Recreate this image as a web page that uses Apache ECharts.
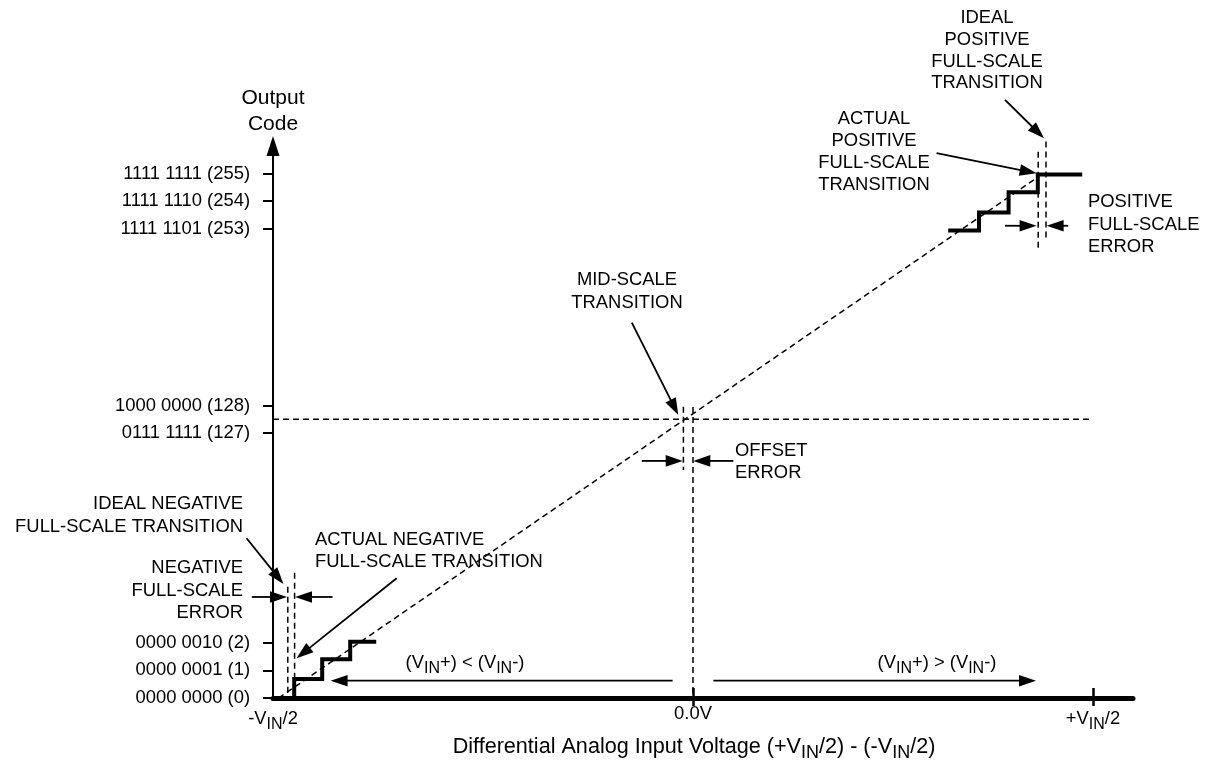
<!DOCTYPE html>
<html><head><meta charset="utf-8">
<script src="https://cdn.jsdelivr.net/npm/echarts@6/dist/echarts.min.js"></script>
<style>html,body{margin:0;padding:0;background:#fff}#c{width:1219px;height:771px}</style>
</head><body><div id="c"></div>
<script>
const FONT = '"Liberation Sans", Arial, Helvetica, sans-serif';

// ---- axis ticks / labels ----
const xTickValues = [-1.05, 0, 1];
const xTickLabels = ['-V{s|IN}/2', '0.0V', '+V{s|IN}/2'];
const xMarkValues = [0, 1];
const yTickPositions = [0, 1, 2, 9.6, 10.6, 17, 18, 19];
const yTickLabels = ['0000 0000 (0)', '0000 0001 (1)', '0000 0010 (2)', '0111 1111 (127)',
  '1000 0000 (128)', '1111 1101 (253)', '1111 1110 (254)', '1111 1111 (255)'];

// ---- transfer function data ----
const lowStairs = [[-0.997, 0], [-0.997, 0.69], [-0.927, 0.69], [-0.927, 1.40], [-0.857, 1.40],
  [-0.857, 2.04], [-0.792, 2.04]];
const highStairs = [[0.638, 16.94], [0.715, 16.94], [0.715, 17.59], [0.789, 17.59], [0.789, 18.32],
  [0.862, 18.32], [0.862, 18.97], [0.973, 18.97]];

// dashed guides [x1, y1, x2, y2]
const idealLine = [[-1.036, 0, 0.863, 18.88]];
const midLevel = [[-1.05, 10.1, 0.998, 10.1]];
const transitionMarks = [
  [-0.024, 10.55, -0.024, 8.26],
  [0, 10.54, 0, 0],
  [-1.013, 4.03, -1.013, 0],
  [-0.996, 4.54, -0.996, 0.69],
  [0.863, 19.79, 0.863, 16.29],
  [0.8825, 20.16, 0.8825, 16.66]
];
// arrows [fromX, fromY, tipX, tipY]
const arrows = [
  [0.78, 21.67, 0.8775, 20.28],
  [0.609, 19.74, 0.859, 19.01],
  [0.78, 17.11, 0.859, 17.11],
  [0.938, 17.11, 0.884, 17.11],
  [-0.153, 13.6, -0.0368, 10.25],
  [-0.128, 8.59, -0.0258, 8.59],
  [0.1008, 8.59, 0.0008, 8.59],
  [-1.116, 5.79, -1.024, 4.13],
  [-1.103, 3.66, -1.015, 3.66],
  [-0.901, 3.66, -0.995, 3.66],
  [-0.741, 4.34, -0.991, 1.44],
  [-0.051, 0.627, -0.906, 0.627],
  [0.051, 0.627, 0.8575, 0.627]
];

// ---- text annotations (layout) ----
const SUB = {fontSize: 16, fontFamily: FONT, fill: '#000', padding: [12, 0, 0, 0]};
const SUB_BIG = {fontSize: 18, fontFamily: FONT, fill: '#000', padding: [13, 0, 0, 0]};
const texts = [
  {x: 273, y: 85, align: 'center', lh: 26, size: 21, t: 'Output\nCode'},
  {x: 987, y: 7, align: 'center', lh: 21.8, t: 'IDEAL\nPOSITIVE\nFULL-SCALE\nTRANSITION'},
  {x: 874, y: 108, align: 'center', lh: 22, t: 'ACTUAL\nPOSITIVE\nFULL-SCALE\nTRANSITION'},
  {x: 1088, y: 191, align: 'left', lh: 22.3, t: 'POSITIVE\nFULL-SCALE\nERROR'},
  {x: 627, y: 269, align: 'center', lh: 22.5, t: 'MID-SCALE\nTRANSITION'},
  {x: 735, y: 440, align: 'left', lh: 22, t: 'OFFSET\nERROR'},
  {x: 243, y: 492, align: 'right', lh: 23, t: 'IDEAL NEGATIVE\nFULL-SCALE TRANSITION'},
  {x: 243, y: 557, align: 'right', lh: 22.3, t: 'NEGATIVE\nFULL-SCALE\nERROR'},
  {x: 315, y: 529, align: 'left', lh: 22, t: 'ACTUAL NEGATIVE\nFULL-SCALE TRANSITION'}
];
const richTexts = [
  {x: 465, y: 663, t: '(V{s|IN}+) < (V{s|IN}-)', size: 18.4, sub: SUB},
  {x: 937, y: 663, t: '(V{s|IN}+) > (V{s|IN}-)', size: 18.4, sub: SUB},
  {x: 694, y: 747, t: 'Differential Analog Input Voltage (+V{s|IN}/2) - (-V{s|IN}/2)', size: 21.6, sub: SUB_BIG}
];

const graphics = [];
texts.forEach(b => graphics.push({
  type: 'text', x: b.x, y: b.y, z: 10,
  style: {text: b.t, fontSize: b.size || 18.4, fontFamily: FONT, fill: '#000',
    align: b.align, verticalAlign: 'top', lineHeight: b.lh}
}));
richTexts.forEach(b => graphics.push({
  type: 'text', x: b.x, y: b.y, z: 10,
  style: {text: b.t, fontSize: b.size, fontFamily: FONT, fill: '#000',
    align: 'center', verticalAlign: 'middle', rich: {s: b.sub}}
}));

function dashedItem(params, api) {
  const a = api.coord([api.value(0), api.value(1)]);
  const b = api.coord([api.value(2), api.value(3)]);
  return {type: 'line', shape: {x1: a[0], y1: a[1], x2: b[0], y2: b[1]},
    style: {stroke: '#000', lineWidth: 1.5, lineDash: [6, 4]}};
}
function arrowItem(params, api) {
  const a = api.coord([api.value(0), api.value(1)]);
  const b = api.coord([api.value(2), api.value(3)]);
  const L = 17, W = 5.8;
  const dx = b[0] - a[0], dy = b[1] - a[1], len = Math.hypot(dx, dy);
  const ux = dx / len, uy = dy / len;
  const bx = b[0] - ux * L, by = b[1] - uy * L;
  return {type: 'group', children: [
    {type: 'line', shape: {x1: a[0], y1: a[1], x2: bx + ux * 2, y2: by + uy * 2},
      style: {stroke: '#000', lineWidth: 1.8}},
    {type: 'polygon', shape: {points: [[b[0], b[1]], [bx - uy * W, by + ux * W], [bx + uy * W, by - ux * W]]},
      style: {fill: '#000'}}
  ]};
}

const chart = echarts.init(document.getElementById('c'), null, {renderer: 'canvas'});
chart.setOption({
  animation: false,
  backgroundColor: '#fff',
  grid: {left: 273, right: 86, top: 146, bottom: 73, containLabel: false, outerBoundsMode: 'none'},
  xAxis: [{
    type: 'value', min: -1.05, max: 1.10, position: 'bottom',
    axisLine: {show: true, onZero: false, lineStyle: {color: '#000', width: 5}},
    splitLine: {show: false},
    axisTick: {show: true, customValues: xMarkValues, length: 8, lineStyle: {color: '#000', width: 2.5}},
    axisLabel: {
      customValues: xTickValues, margin: 7, color: '#000', fontSize: 18.4, fontFamily: FONT,
      formatter: v => { const i = xTickValues.findIndex(t => Math.abs(t - v) < 1e-6); return i >= 0 ? xTickLabels[i] : ''; },
      rich: {s: {fontSize: 16, fontFamily: FONT, color: '#000', padding: [12, 0, 0, 0]}}
    }
  }, {
    type: 'value', min: -1.05, max: 1.10, position: 'bottom', gridIndex: 0,
    axisLine: {show: false}, splitLine: {show: false}, axisLabel: {show: false},
    axisTick: {show: true, inside: true, customValues: xMarkValues, length: 10, lineStyle: {color: '#000', width: 2.5}}
  }],
  yAxis: {
    type: 'value', min: 0, max: 20,
    axisLine: {show: true, onZero: false, symbol: ['none', 'triangle'], symbolSize: [13, 20],
      lineStyle: {color: '#000', width: 2}},
    splitLine: {show: false},
    axisTick: {show: true, customValues: yTickPositions, length: 10, lineStyle: {color: '#000', width: 2}},
    axisLabel: {
      customValues: yTickPositions, margin: 23, color: '#000', fontSize: 18.4, fontFamily: FONT,
      formatter: v => { const i = yTickPositions.findIndex(t => Math.abs(t - v) < 1e-6); return i >= 0 ? yTickLabels[i] : ''; }
    }
  },
  graphic: graphics,
  series: [
    {type: 'custom', name: 'ideal', renderItem: dashedItem, data: idealLine, clip: false, z: 3, silent: true},
    {type: 'custom', name: 'mid', renderItem: dashedItem, data: midLevel, clip: false, z: 3, silent: true},
    {type: 'custom', name: 'marks', renderItem: dashedItem, data: transitionMarks, clip: false, z: 3, silent: true},
    {type: 'custom', name: 'arrows', renderItem: arrowItem, data: arrows, clip: false, z: 4, silent: true},
    {type: 'line', name: 'low', data: lowStairs, showSymbol: false, symbol: 'none', clip: false, z: 5,
      lineStyle: {color: '#000', width: 4, join: 'miter'}},
    {type: 'line', name: 'high', data: highStairs, showSymbol: false, symbol: 'none', clip: false, z: 5,
      lineStyle: {color: '#000', width: 4, join: 'miter'}}
  ]
});
</script>
</body></html>
